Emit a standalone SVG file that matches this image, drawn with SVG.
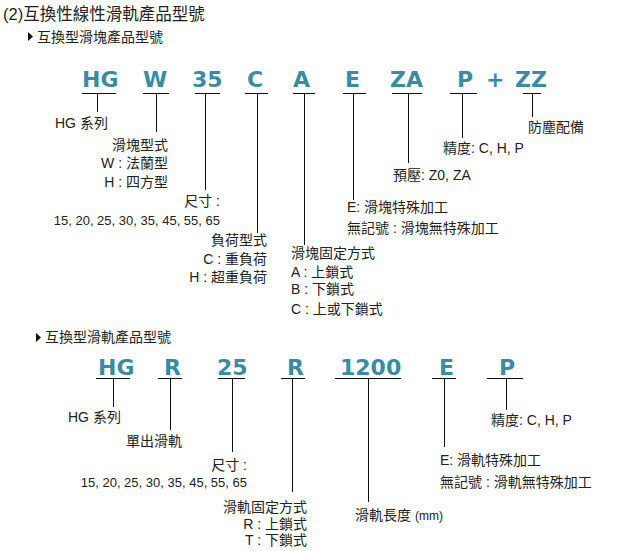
<svg xmlns="http://www.w3.org/2000/svg" width="640" height="551" viewBox="0 0 640 551">
<style>
text{font-family:"Liberation Sans","Noto Sans CJK TC",sans-serif;fill:#222;font-size:14px}
.t{font-size:16.5px}
.s{font-size:14px}
.c{font-family:"DejaVu Sans",Verdana,sans-serif;font-weight:bold;font-size:22px;fill:#3a8ca4}
.n{font-size:13px}
.e{text-anchor:end}
line{stroke:#111;stroke-width:1}
</style>
<rect width="640" height="551" fill="#fff"/>
<g id="title">
<text class="t" x="3" y="20">(2)互換性線性滑軌產品型號</text>
</g>
<g id="sub1">
<polygon points="28,32 33,36.5 28,41" fill="#111"/>
<text class="s" x="37" y="42">互換型滑塊產品型號</text>
</g>
<g id="sub2">
<polygon points="36,333 41,337.5 36,342" fill="#111"/>
<text class="s" x="45" y="342">互換型滑軌產品型號</text>
</g>
<g id="connectors">
<line x1="82" y1="93.5" x2="116" y2="93.5"/><line x1="97.5" y1="93.5" x2="97.5" y2="112"/>
<line x1="143" y1="93.5" x2="169" y2="93.5"/><line x1="156.5" y1="93.5" x2="156.5" y2="132"/>
<line x1="195" y1="93.5" x2="220" y2="93.5"/><line x1="205.5" y1="93.5" x2="205.5" y2="190"/>
<line x1="245" y1="93.5" x2="268" y2="93.5"/><line x1="257.5" y1="93.5" x2="257.5" y2="233"/>
<line x1="293" y1="93.5" x2="315" y2="93.5"/><line x1="304.5" y1="93.5" x2="304.5" y2="245"/>
<line x1="343" y1="93.5" x2="366" y2="93.5"/><line x1="353.5" y1="93.5" x2="353.5" y2="200"/>
<line x1="392" y1="93.5" x2="422" y2="93.5"/><line x1="408.5" y1="93.5" x2="408.5" y2="163"/>
<line x1="450" y1="93.5" x2="477" y2="93.5"/><line x1="462.5" y1="93.5" x2="462.5" y2="138"/>
<line x1="523" y1="93.5" x2="541" y2="93.5"/><line x1="532.5" y1="93.5" x2="532.5" y2="117"/>
<line x1="96" y1="378.5" x2="130" y2="378.5"/><line x1="113.5" y1="378.5" x2="113.5" y2="407"/>
<line x1="158" y1="378.5" x2="182" y2="378.5"/><line x1="170.5" y1="378.5" x2="170.5" y2="430"/>
<line x1="218" y1="378.5" x2="245" y2="378.5"/><line x1="232.5" y1="378.5" x2="232.5" y2="452"/>
<line x1="281" y1="378.5" x2="305" y2="378.5"/><line x1="292.5" y1="378.5" x2="292.5" y2="492"/>
<line x1="335" y1="378.5" x2="401" y2="378.5"/><line x1="368.5" y1="378.5" x2="368.5" y2="502"/>
<line x1="432" y1="378.5" x2="456" y2="378.5"/><line x1="444.5" y1="378.5" x2="444.5" y2="447"/>
<line x1="487" y1="378.5" x2="523" y2="378.5"/><line x1="506.5" y1="378.5" x2="506.5" y2="410"/>
</g>
<g id="n1-hg"><text class="c" x="82" y="87">HG</text><text x="55" y="128">HG 系列</text></g>
<g id="n1-w"><text class="c" x="143" y="87">W</text>
<text class="e" x="168" y="150">滑塊型式</text><text class="e" x="168" y="168">W : 法蘭型</text><text class="e" x="168" y="187">H : 四方型</text></g>
<g id="n1-35"><text class="c" x="192" y="87">35</text>
<text class="e" x="220" y="206">尺寸 :</text><text class="n e" x="220" y="225">15, 20, 25, 30, 35, 45, 55, 65</text></g>
<g id="n1-c"><text class="c" x="247" y="87">C</text>
<text class="e" x="267" y="245">負荷型式</text><text class="e" x="267" y="264">C : 重負荷</text><text class="e" x="267" y="282">H : 超重負荷</text></g>
<g id="n1-a"><text class="c" x="293" y="87">A</text>
<text x="291" y="258">滑塊固定方式</text><text x="291" y="277">A : 上鎖式</text><text x="291" y="294">B : 下鎖式</text><text x="291" y="314">C : 上或下鎖式</text></g>
<g id="n1-e"><text class="c" x="345" y="87">E</text>
<text x="347" y="212">E: 滑塊特殊加工</text><text x="347" y="233">無記號 : 滑塊無特殊加工</text></g>
<g id="n1-za"><text class="c" x="390" y="87">ZA</text><text x="393" y="180">預壓: Z0, ZA</text></g>
<g id="n1-p"><text class="c" x="457" y="87">P</text><text x="443" y="153">精度: C, H, P</text></g>
<g id="n1-plus"><text class="c" x="486" y="87">+</text></g>
<g id="n1-zz"><text class="c" x="515" y="87">ZZ</text><text x="528" y="132">防塵配備</text></g>
<g id="n2-hg"><text class="c" x="98" y="375">HG</text><text x="68" y="422">HG 系列</text></g>
<g id="n2-r"><text class="c" x="164" y="375">R</text><text class="e" x="182" y="446">單出滑軌</text></g>
<g id="n2-25"><text class="c" x="217" y="375">25</text>
<text class="e" x="247" y="470">尺寸 :</text><text class="n e" x="247" y="487">15, 20, 25, 30, 35, 45, 55, 65</text></g>
<g id="n2-r2"><text class="c" x="287" y="375">R</text>
<text class="e" x="307" y="512">滑軌固定方式</text><text class="e" x="307" y="529">R : 上鎖式</text><text class="e" x="307" y="545">T : 下鎖式</text></g>
<g id="n2-1200"><text class="c" x="340" y="375">1200</text><text x="355" y="520">滑軌長度 <tspan font-size="12">(mm)</tspan></text></g>
<g id="n2-e"><text class="c" x="439" y="375">E</text>
<text x="440" y="465">E: 滑軌特殊加工</text><text x="440" y="487">無記號 : 滑軌無特殊加工</text></g>
<g id="n2-p"><text class="c" x="499" y="375">P</text><text x="491" y="425">精度: C, H, P</text></g>
</svg>
